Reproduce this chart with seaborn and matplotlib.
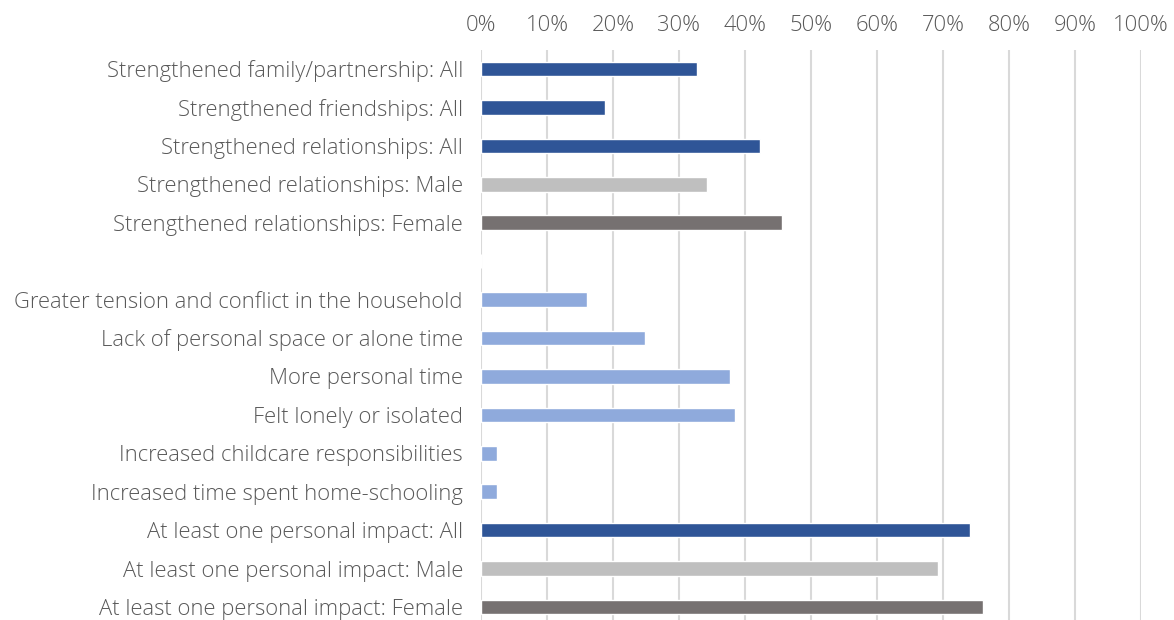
import matplotlib
matplotlib.use("Agg")
import matplotlib.pyplot as plt
import seaborn as sns
import pandas as pd
from matplotlib.ticker import PercentFormatter

categories = [
    "Strengthened family/partnership: All",
    "Strengthened friendships: All",
    "Strengthened relationships: All",
    "Strengthened relationships: Male",
    "Strengthened relationships: Female",
    " ",
    "Greater tension and conflict in the household",
    "Lack of personal space or alone time",
    "More personal time",
    "Felt lonely or isolated",
    "Increased childcare responsibilities",
    "Increased time spent home-schooling",
    "At least one personal impact: All",
    "At least one personal impact: Male",
    "At least one personal impact: Female",
]
values = [0.327, 0.188, 0.423, 0.342, 0.456, 0.0,
          0.161, 0.248, 0.377, 0.385, 0.024, 0.024,
          0.741, 0.692, 0.761]
groups = ["All", "All", "All", "Male", "Female", "All",
          "Item", "Item", "Item", "Item", "Item", "Item",
          "All", "Male", "Female"]
tick_values = [0, 0.1, 0.2, 0.3, 0.4, 0.5, 0.6, 0.7, 0.8, 0.9, 1.0]

group_colors = {"All": "#2F5597", "Male": "#BFBFBF", "Female": "#767171", "Item": "#8FAADC"}

df = pd.DataFrame({"category": categories, "value": values, "group": groups})

sns.set_theme(style="white")
plt.rcParams["font.family"] = ["Open Sans", "DejaVu Sans"]
plt.rcParams["font.weight"] = "light"

fig = plt.figure(figsize=(11.74, 6.2), dpi=100)
ax = fig.add_axes([0.4097, -0.01, 0.5622, 0.9297])

sns.barplot(data=df, x="value", y="category", hue="group", palette=group_colors,
            order=categories, dodge=False, legend=False, width=0.38, saturation=1,
            ax=ax, orient="h")

ax.set_xlim(0, 1.0)
ax.set_xticks(tick_values)
ax.xaxis.set_major_formatter(PercentFormatter(1.0, decimals=0))
ax.xaxis.tick_top()
ax.xaxis.set_label_position("top")
ax.set_xlabel("")
ax.set_ylabel("")
ax.grid(axis="x", color="#D9D9D9", linewidth=1.5)
ax.grid(axis="y", visible=False)
ax.set_axisbelow(True)
for s in ax.spines.values():
    s.set_visible(False)
ax.tick_params(axis="both", length=0, labelsize=15.8, labelcolor="#595959")
ax.tick_params(axis="x", pad=10)
ax.tick_params(axis="y", pad=13)
for lbl in ax.get_xticklabels() + ax.get_yticklabels():
    lbl.set_fontweight("light")

fig.savefig("out.png", dpi=100)
